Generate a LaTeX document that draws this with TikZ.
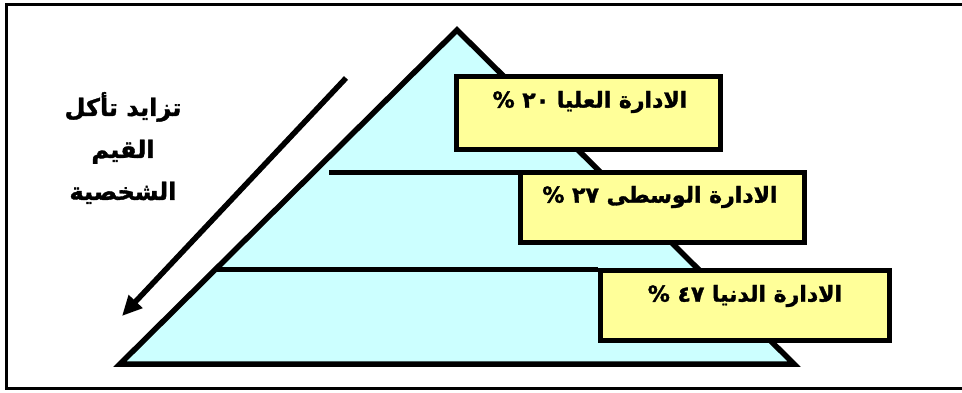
\documentclass[tikz,border=0pt]{standalone}
\usepackage{fontspec}
\usetikzlibrary{arrows.meta}
\TeXXeTstate=1
\newfontfamily\arabicfont[Script=Arabic,BoldFeatures={FakeBold=1.5}]{DejaVu Sans}
\definecolor{pyrfill}{HTML}{CCFFFF}
\definecolor{boxfill}{HTML}{FFFF99}
\begin{document}
\begin{tikzpicture}[x=1pt,y=-1pt,
  frame/.style={line width=3pt},
  pyr/.style={draw=black,fill=pyrfill,line width=5.5pt,line join=miter},
  level/.style={line width=5.5pt},
  lvlbox/.style={draw=black,fill=boxfill,line width=5.5pt,inner sep=0pt},
  lab/.style={font=\arabicfont\bfseries\fontsize{22}{24}\selectfont,inner sep=0pt},
  side/.style={font=\arabicfont\bfseries\fontsize{24}{42}\selectfont,align=center,inner sep=0pt},
  bigarrow/.style={line width=5.5pt,-{Triangle[length=20pt,width=18pt]}}]
\useasboundingbox (0,0) rectangle (962,393);
% frame (open on the right)
\draw[frame] (962,4.5) -- (6.5,4.5) -- (6.5,388) -- (962,388);
% pyramid
\coordinate (apex) at (457,30);
\coordinate (bl) at (120,364);
\coordinate (br) at (794,364);
\draw[pyr] (apex) -- (bl) -- (br) -- cycle;
% level boxes
\node[lvlbox,minimum width=264pt,minimum height=73pt] (b1) at (588.5,113) {};
\node[lvlbox,minimum width=284pt,minimum height=70pt] (b2) at (662.5,207.5) {};
\node[lvlbox,minimum width=289pt,minimum height=70pt] (b3) at (745,305.5) {};
% level lines
\coordinate (l1) at (329,172.5);
\coordinate (l2) at (217,269.5);
\draw[level] (l1) -- (l1 -| b2.west);
\draw[level] (l2) -- (l2 -| b3.west);
% labels
\node[lab] (t1) at (590,102) {\beginR الادارة العليا \beginL٢٠\endL{} \%\endR};
\node[lab] (t2) at (660,197) {\beginR الادارة الوسطى \beginL٢٧\endL{} \%\endR};
\node[lab] (t3) at (745,296) {\beginR الادارة الدنيا \beginL٤٧\endL{} \%\endR};
% side text
\node[side] (s) at (123,148) {\beginR تزايد تأكل\endR\\\beginR القيم\endR\\\beginR الشخصية\endR};
% arrow
\coordinate (a1) at (346,78);
\coordinate (a2) at (122,316);
\draw[bigarrow] (a1) -- (a2);
\end{tikzpicture}
\end{document}
